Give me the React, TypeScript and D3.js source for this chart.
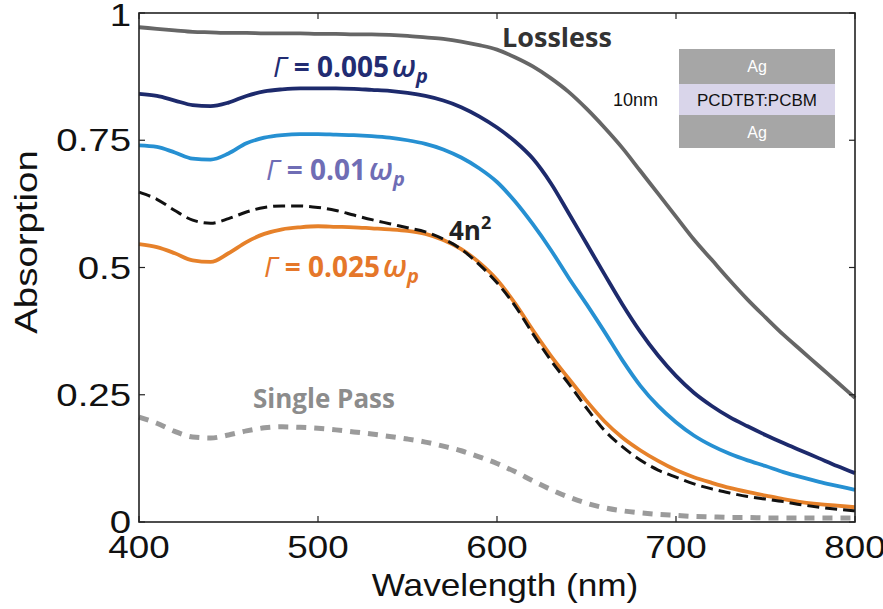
import React from "react";
import * as d3 from "d3";

/* ---------- data ---------- */
const wavelength = d3.range(400, 801, 10);

const lossless = [
  0.972, 0.969, 0.966, 0.963, 0.962, 0.961, 0.961, 0.960, 0.960, 0.960, 0.959,
  0.959, 0.958, 0.958, 0.957, 0.955, 0.952, 0.949, 0.944, 0.937, 0.928,
  0.913, 0.895, 0.872, 0.845, 0.812, 0.775, 0.735, 0.690, 0.645, 0.600,
  0.555, 0.515, 0.475, 0.437, 0.402, 0.368, 0.337, 0.306, 0.275, 0.244,
];
const gamma005 = [
  0.841, 0.837, 0.828, 0.819, 0.817, 0.824, 0.837, 0.846, 0.850, 0.852, 0.852,
  0.852, 0.851, 0.849, 0.847, 0.843, 0.837, 0.828, 0.815, 0.797, 0.775,
  0.748, 0.714, 0.666, 0.607, 0.547, 0.487, 0.428, 0.374, 0.327, 0.287,
  0.254, 0.228, 0.206, 0.188, 0.171, 0.155, 0.140, 0.125, 0.110, 0.096,
];
const gamma01 = [
  0.740, 0.737, 0.726, 0.714, 0.712, 0.724, 0.744, 0.755, 0.760, 0.762, 0.762,
  0.761, 0.760, 0.758, 0.755, 0.750, 0.743, 0.732, 0.716, 0.695, 0.668,
  0.630, 0.585, 0.535, 0.480, 0.428, 0.374, 0.318, 0.268, 0.228, 0.196,
  0.170, 0.150, 0.134, 0.121, 0.110, 0.098, 0.088, 0.079, 0.071, 0.063,
];
const gamma025 = [
  0.546, 0.540, 0.528, 0.514, 0.511, 0.528, 0.550, 0.566, 0.575, 0.579, 0.581,
  0.580, 0.579, 0.577, 0.575, 0.572, 0.566, 0.554, 0.536, 0.510, 0.476,
  0.430, 0.377, 0.327, 0.282, 0.238, 0.198, 0.166, 0.141, 0.120, 0.102,
  0.088, 0.077, 0.067, 0.059, 0.052, 0.045, 0.039, 0.035, 0.032, 0.029,
];
const limit4n2 = [
  0.648, 0.634, 0.612, 0.593, 0.587, 0.596, 0.609, 0.618, 0.621, 0.621, 0.618,
  0.612, 0.603, 0.594, 0.586, 0.578, 0.570, 0.556, 0.536, 0.506, 0.470,
  0.425, 0.370, 0.318, 0.272, 0.224, 0.180, 0.148, 0.122, 0.102, 0.088,
  0.075, 0.065, 0.057, 0.050, 0.045, 0.040, 0.034, 0.029, 0.025, 0.022,
];
const singlePass = [
  0.206, 0.194, 0.178, 0.167, 0.165, 0.171, 0.179, 0.185, 0.187, 0.186, 0.184,
  0.181, 0.177, 0.173, 0.168, 0.163, 0.157, 0.149, 0.140, 0.128, 0.115,
  0.099, 0.081, 0.064, 0.049, 0.037, 0.028, 0.022, 0.018, 0.015, 0.013,
  0.011, 0.010, 0.009, 0.009, 0.008, 0.008, 0.008, 0.008, 0.008, 0.008,
];

const xTicks = [400, 500, 600, 700, 800];
const yTicks = [0, 0.25, 0.5, 0.75, 1];
const yTickLabels = ["0", "0.25", "0.5", "0.75", "1"];

/* ---------- layout ---------- */
const width = 883;
const height = 609;
const margin = { top: 13, right: 28, bottom: 87, left: 139 };

const x = d3.scaleLinear().domain([400, 800]).range([margin.left, width - margin.right]);
const y = d3.scaleLinear().domain([0, 1]).range([height - margin.bottom, margin.top]);

const line = d3
  .line<number>()
  .x((_, i) => x(wavelength[i]))
  .y(d => y(d))
  .curve(d3.curveMonotoneX);

const series = [
  { name: "single", values: singlePass, color: "#9b9b9b", w: 5, dash: "10,8" },
  { name: "lossless", values: lossless, color: "#666666", w: 3.8, dash: null },
  { name: "g005", values: gamma005, color: "#1d2a6c", w: 3.8, dash: null },
  { name: "g01", values: gamma01, color: "#2690d2", w: 3.8, dash: null },
  { name: "g025", values: gamma025, color: "#e6812a", w: 3.8, dash: null },
  { name: "4n2", values: limit4n2, color: "#111111", w: 3, dash: "12,6" },
];

const tickFont = "'Liberation Sans', Arial, Helvetica, sans-serif";
const labelFont = "'Open Sans', 'Noto Sans', sans-serif";

function GammaLabel({ xPos, yPos, value, color }: { xPos: number; yPos: number; value: string; color: string }) {
  return (
    <text x={xPos} y={yPos} fill={color} fontFamily={labelFont} fontSize={28} fontWeight={700}>
      <tspan fontStyle="italic" fontWeight={400}>Γ</tspan>
      <tspan> = {value}</tspan>
      <tspan fontStyle="italic" fontWeight={600} fontSize={31} dx={3}>ω</tspan>
      <tspan fontStyle="italic" fontSize={20} dy={6}>p</tspan>
    </text>
  );
}

export default function App() {
  const x0 = margin.left;
  const x1 = width - margin.right;
  const y0 = height - margin.bottom;
  const y1 = margin.top;

  return (
    <div style={{ position: "fixed", left: 0, top: 0 }}>
      <svg width={width} height={height} style={{ display: "block", background: "#fff" }}>
        {/* curves */}
        {series.map(s => (
          <path
            key={s.name}
            d={line(s.values) || ""}
            fill="none"
            stroke={s.color}
            strokeWidth={s.w}
            strokeDasharray={s.dash || undefined}
            strokeLinejoin="round"
          />
        ))}

        {/* box */}
        <rect x={x0} y={y1} width={x1 - x0} height={y0 - y1} fill="none" stroke="#222" strokeWidth={1.6} />

        {/* x ticks */}
        {xTicks.map(t => (
          <g key={t}>
            <line x1={x(t)} x2={x(t)} y1={y0} y2={y0 - 6} stroke="#222" strokeWidth={1.2} />
            <line x1={x(t)} x2={x(t)} y1={y1} y2={y1 + 6} stroke="#222" strokeWidth={1.2} />
            <text
              transform={`translate(${x(t)},${y0 + 36}) scale(1.15,1)`}
              textAnchor="middle"
              fontFamily={tickFont}
              fontSize={32}
              fill="#111"
            >
              {t}
            </text>
          </g>
        ))}

        {/* y ticks */}
        {yTicks.map((t, i) => (
          <g key={t}>
            <line x1={x0} x2={x0 + 6} y1={y(t)} y2={y(t)} stroke="#222" strokeWidth={1.2} />
            <line x1={x1} x2={x1 - 6} y1={y(t)} y2={y(t)} stroke="#222" strokeWidth={1.2} />
            <text
              transform={`translate(${x0 - 8},${y(t) + (t === 1 ? 13 : 11)}) scale(1.2,1)`}
              textAnchor="end"
              fontFamily={tickFont}
              fontSize={32}
              fill="#111"
            >
              {yTickLabels[i]}
            </text>
          </g>
        ))}

        {/* axis titles */}
        <text
          transform={`translate(${(x0 + x1) / 2 + 8},${height - 13}) scale(1.1,1)`}
          textAnchor="middle"
          fontFamily={tickFont}
          fontSize={32}
          fill="#111"
        >
          Wavelength (nm)
        </text>
        <text
          transform={`translate(37,242) rotate(-90) scale(1.2,1)`}
          textAnchor="middle"
          fontFamily={tickFont}
          fontSize={32}
          fill="#111"
        >
          Absorption
        </text>

        {/* curve labels */}
        <text x={502} y={47} fontFamily={labelFont} fontSize={27} fontWeight={700} fill="#333">
          Lossless
        </text>
        <GammaLabel xPos={273} yPos={77} value="0.005" color="#222c72" />
        <GammaLabel xPos={266} yPos={180} value="0.01" color="#6f6db5" />
        <GammaLabel xPos={264} yPos={277} value="0.025" color="#e5772a" />
        <text x={449} y={240} fontFamily={labelFont} fontSize={26} fontWeight={700} fill="#222">
          4n<tspan fontSize={18} dy={-11}>2</tspan>
        </text>
        <text x={253} y={408} fontFamily={labelFont} fontSize={26} fontWeight={700} fill="#8c8c8c">
          Single Pass
        </text>

        {/* inset: layer stack */}
        <rect x={679} y={49} width={156} height={35} fill="#a6a6a6" />
        <rect x={679} y={84} width={156} height={31} fill="#d9d5ea" />
        <rect x={679} y={115} width={156} height={33} fill="#a6a6a6" />
        <text x={757} y={72} textAnchor="middle" fontFamily={tickFont} fontSize={16} fill="#fff">Ag</text>
        <text x={757} y={106} textAnchor="middle" fontFamily={tickFont} fontSize={17} fill="#111">PCDTBT:PCBM</text>
        <text x={757} y={138} textAnchor="middle" fontFamily={tickFont} fontSize={16} fill="#fff">Ag</text>
        <text x={613} y={106} fontFamily={tickFont} fontSize={18} fill="#111">10nm</text>
      </svg>
    </div>
  );
}
